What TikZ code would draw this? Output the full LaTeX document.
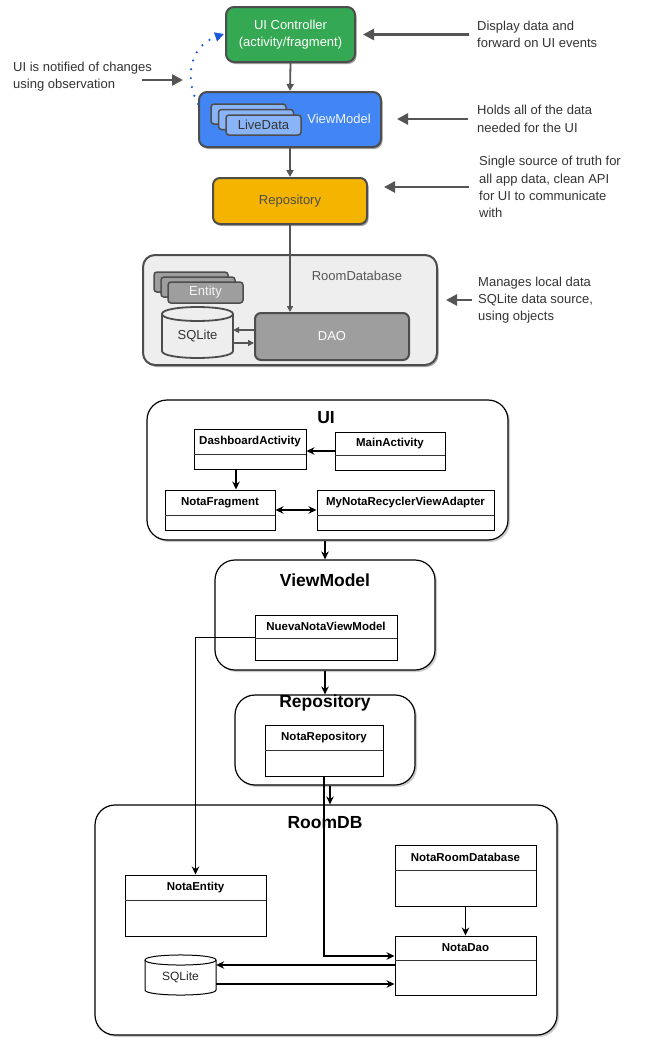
\documentclass[tikz,border=0pt]{standalone}
\usepackage{fontspec}
\setmainfont{Liberation Sans}
\usetikzlibrary{arrows.meta,shadows,calc}
\definecolor{ctrlgreen}{HTML}{34A853}
\definecolor{vmblue}{HTML}{4285F4}
\definecolor{ldblue}{HTML}{8AB4F8}
\definecolor{repoyellow}{HTML}{F4B400}
\definecolor{roomgray}{HTML}{EEEEEE}
\definecolor{daogray}{HTML}{9E9E9E}
\definecolor{edgegray}{HTML}{4D4D4D}
\definecolor{anntext}{HTML}{333333}
\definecolor{arrgray}{HTML}{555555}
\definecolor{obsblue}{HTML}{1A5AD8}
\newcommand\annfont{\fontsize{13}{17.3}\selectfont}
\newcommand\clsfont{\fontsize{11.5}{13}\selectfont\bfseries}
\newcommand\ttlfont{\fontsize{17.5}{20}\selectfont\bfseries}
\newcommand\rbox[7][]{%
  \pgfmathsetmacro\rbw{#5-#3}%
  \pgfmathsetmacro\rbh{#6-#4}%
  \pgfmathsetmacro\rbx{(#3+#5)/2}%
  \pgfmathsetmacro\rby{(#4+#6)/2}%
  \node[#1, minimum width=\rbw pt, minimum height=\rbh pt, inner sep=0pt] (#2) at (\rbx,\rby) {#7};%
}
\newcommand\uml[7]{%
  \rbox[umlbox]{#1}{#2}{#3}{#4}{#5}{}%
  \pgfmathsetmacro\umx{(#2+#4)/2}%
  \pgfmathsetmacro\umy{(#3+#6)/2}%
  \node[umltitle] (#1-t) at (\umx,\umy) {#7};%
  \draw[umlline] (#2,#6) -- (#4,#6);%
}
\newcommand\cyl[6]{%
  \draw[#1] (#2,#4) -- (#2,#5) .. controls (#2,#5+#6) and (#3,#5+#6) .. (#3,#5) -- (#3,#4) .. controls (#3,#4-#6) and (#2,#4-#6) .. (#2,#4) -- cycle;%
  \draw[#1,fill=none] (#2,#4) .. controls (#2,#4+#6) and (#3,#4+#6) .. (#3,#4);%
}
\tikzset{
  topshadow/.style={drop shadow={shadow xshift=1.5pt,shadow yshift=-2pt,opacity=.35,fill=black}},
  topbox/.style={draw=edgegray, line width=2pt, rounded corners=8pt, font=\annfont, align=center, topshadow},
  stackbox/.style={draw=edgegray, line width=1.5pt, rounded corners=3pt, font=\annfont},
  annot/.style={anchor=west, align=left, inner sep=0pt, font=\annfont, text=anntext},
  annarrow/.style={draw=arrgray, line width=2.6pt, -{Triangle[length=11pt,width=11pt]}},
  toparrow/.style={draw=arrgray, line width=1.8pt, -{Triangle[length=7pt,width=7pt]}},
  thinarrow/.style={draw=arrgray, line width=1.5pt, -{Triangle[length=6pt,width=6pt]}},
  container/.style={draw=black, line width=1.2pt, rounded corners=20pt, fill=white,
    drop shadow={shadow xshift=2pt,shadow yshift=-2pt,opacity=.2,fill=black}},
  ttl/.style={font=\ttlfont, inner sep=0pt},
  umlbox/.style={draw=black, line width=1pt, fill=white},
  umltitle/.style={font=\clsfont, inner sep=0pt},
  umlline/.style={draw=black!80, line width=.8pt},
  umlarrow/.style={draw=black, line width=1.1pt, -{Stealth[length=8pt,width=7.5pt]}},
  plain/.style={},
}
\begin{document}
\begin{tikzpicture}[x=1pt,y=-1pt]
\useasboundingbox[fill=white] (0,0) rectangle (646,1052);

% ---------------- top architecture diagram ----------------
\rbox[topbox, fill=ctrlgreen, text=white]{uic}{226}{7}{355}{62}{UI Controller\\(activity/fragment)}
\rbox[topbox, fill=vmblue]{vm}{199}{92}{381}{147}{}
\node[font=\annfont, text=white!92!vmblue, inner sep=0pt] (vmlabel) at (339,119) {ViewModel};
\rbox[stackbox, fill=ldblue]{ld1}{211}{104}{286}{124}{}
\rbox[stackbox, fill=ldblue]{ld2}{218.5}{109.5}{293.5}{129.5}{}
\rbox[stackbox, fill=ldblue, text=anntext]{ld3}{226}{115}{301}{135}{LiveData}
\rbox[topbox, fill=repoyellow, rounded corners=7pt, text=edgegray]{repo}{213}{178}{367}{224}{Repository}

\rbox[topbox, fill=roomgray, rounded corners=12pt, line width=2pt]{room}{143}{255}{437}{365}{}
\node[font=\annfont, text=arrgray, inner sep=0pt] (roomlabel) at (357,276) {RoomDatabase};
\rbox[stackbox, fill=daogray]{en1}{154}{272}{228}{292}{}
\rbox[stackbox, fill=daogray]{en2}{161}{277}{235}{297}{}
\rbox[stackbox, fill=daogray, text=white!88!daogray]{en3}{168}{282}{243}{303}{Entity}
\cyl{draw=edgegray, line width=1.8pt, fill=roomgray}{162}{233}{314}{351}{9.3}
\rbox[plain, font=\annfont, text=anntext]{sql}{162}{314}{233}{358}{SQLite}
\rbox[stackbox, fill=daogray, rounded corners=6pt, line width=2pt, text=white]{dao}{255}{313}{409}{360}{DAO}

\draw[toparrow] (uic.south) -- (vm.north);
\draw[toparrow] (vm.south) -- (repo.north);
\draw[thinarrow] (repo.south) -- (repo.south |- dao.north);
\draw[thinarrow] (dao.west |- 0,330) -- (sql.east |- 0,330);
\draw[thinarrow] (sql.east |- 0,343) -- (dao.west |- 0,343);

% observation (dotted)
\coordinate (obsA) at (198,104);
\coordinate (obsB) at (224,34);
\draw[draw=obsblue, line width=2.4pt, line cap=round, dash pattern=on 0pt off 9pt,
      -{Triangle[length=9pt,width=9pt,fill=obsblue]}] (obsA) .. controls (183,75) and (192,45) .. (obsB);

% annotations
\node[annot] (t1) at (477,34.5) {Display data and\\forward on UI events};
\node[annot] (t2) at (477,119) {Holds all of the data\\needed for the UI};
\node[annot] (t3) at (479,187) {Single source of truth for\\all app data, clean API\\for UI to communicate\\with};
\node[annot] (t4) at (478,300) {Manages local data\\SQLite data source,\\using objects};
\node[annot] (t5) at (13,76.5) {UI is notified of changes\\using observation};
\draw[annarrow, shorten <=8pt, shorten >=7pt] (t1.west) -- (uic.east);
\draw[annarrow, shorten <=9pt, shorten >=15pt] (t2.west) -- (vm.east |- t2.west);
\draw[annarrow, shorten <=10pt, shorten >=16pt] (t3.west) -- (repo.east |- t3.west);
\draw[annarrow, shorten <=6pt, shorten >=8pt] (t4.west) -- (room.east |- t4.west);
\coordinate (obsS) at (142,80);
\coordinate (obsE) at (183,80);
\draw[annarrow] (obsS) -- (obsE);

% ---------------- bottom class diagram ----------------
\rbox[container]{uiC}{147}{400}{508}{540}{}
\node[ttl] (uiT) at (326,418) {UI};
\uml{dash}{194}{429}{306}{469}{454}{DashboardActivity}
\uml{main}{335}{432}{445}{470}{455}{MainActivity}
\uml{nf}{165}{490}{275}{530}{515}{NotaFragment}
\uml{my}{317}{490}{494}{530}{515}{MyNotaRecyclerViewAdapter}

\rbox[container]{vmC}{215}{560}{435}{670}{}
\node[ttl] (vmT) at (325,580) {ViewModel};
\uml{nueva}{255}{615}{397}{660}{638}{NuevaNotaViewModel}

\rbox[container]{repoC}{235}{695}{415}{785}{}
\node[ttl] (repoT) at (325,703) {Repository};
\uml{nrep}{265}{725}{383}{776}{750}{NotaRepository}

\rbox[container]{roomC}{95}{805}{557}{1035}{}
\node[ttl] (roomT) at (325,823) {RoomDB};
\uml{entity}{125}{875}{266}{936}{900}{NotaEntity}
\uml{nrd}{395}{845}{536}{906}{870}{NotaRoomDatabase}
\uml{dao2}{395}{936}{536}{995}{960}{NotaDao}
\cyl{draw=black, line width=1pt, fill=white}{145}{216}{960}{990}{6.7}
\rbox[plain, font=\fontsize{12}{14}\selectfont, text=black!85]{sql2}{145}{960}{216}{995}{SQLite}

\draw[umlarrow] (main.west) -- (main.west -| dash.east);
\draw[umlarrow] ([xshift=-14pt]dash.south) -- ([xshift=-14pt]dash.south |- nf.north);
\draw[umlarrow, {Stealth[length=8pt,width=7.5pt]}-{Stealth[length=8pt,width=7.5pt]}] (nf.east) -- (my.west);
\draw[umlarrow] (uiC.south -| vmC.north) -- (vmC.north);
\draw[umlarrow] (vmC.south) -- (repoC.north);
\draw[umlarrow] (nueva.west) -| (entity.north);
\draw[umlarrow] (nrep.south) |- (dao2.west |- 0,956);
\draw[umlarrow] ([xshift=5pt]repoC.south) -- ([xshift=5pt]repoC.south |- roomC.north);
\draw[umlarrow] (nrd.south) -- (dao2.north);
\draw[umlarrow] (dao2.west |- 0,965) -- (sql2.east |- 0,965);
\draw[umlarrow] (sql2.east |- 0,984) -- (dao2.west |- 0,984);
\end{tikzpicture}
\end{document}
